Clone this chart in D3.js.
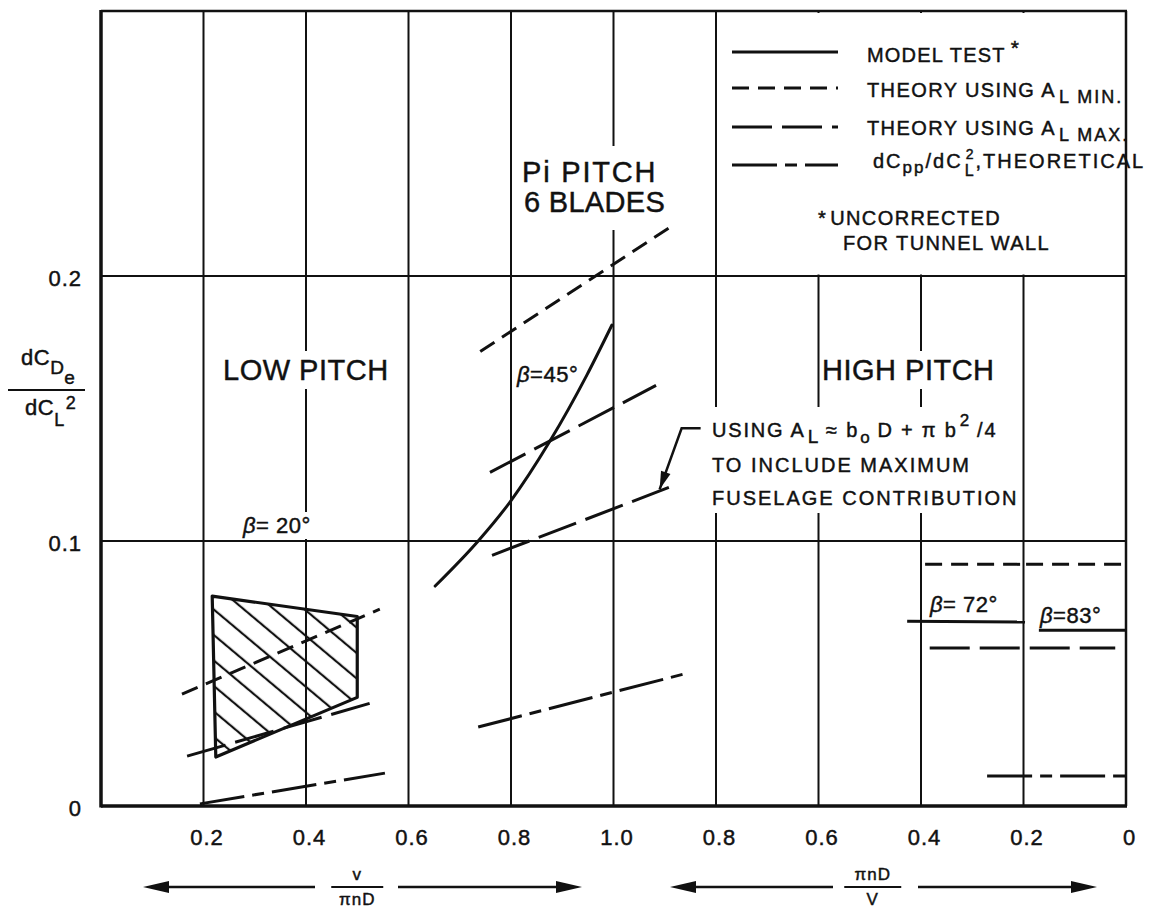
<!DOCTYPE html>
<html>
<head>
<meta charset="utf-8">
<script src="https://cdn.jsdelivr.net/npm/d3@7/dist/d3.min.js"></script>
<style>
html,body{margin:0;padding:0;background:#fff;}
svg{display:block;}
text{font-family:"Liberation Sans","DejaVu Sans",Arial,sans-serif;fill:#111;stroke:#111;stroke-width:0.45px;}
</style>
</head>
<body>
<svg id="chart" width="1150" height="909"></svg>
<script>
// ---------------- DATA ----------------
// Composite abscissa: left half is V/(pi n D) from 0 to 1, right half is (pi n D)/V from 1 back to 0.
const leftTickValues  = [0.2, 0.4, 0.6, 0.8, 1.0];      // V / pi n D
const leftTickLabels  = ["0.2", "0.4", "0.6", "0.8", "1.0"];
const rightTickValues = [0.8, 0.6, 0.4, 0.2, 0];        // pi n D / V
const rightTickLabels = ["0.8", "0.6", "0.4", "0.2", "0"];
const yTickValues = [0, 0.1, 0.2];
const yTickLabels = ["0", "0.1", "0.2"];

// beta = 20 deg (low pitch), x = V/(pi n D)
const b20ModelRegion = [[0.217, 0.0792], [0.500, 0.0715], [0.500, 0.0410], [0.224, 0.0185]];
const b20AlMin = [[0.158, 0.0422], [0.544, 0.0743]];
const b20AlMax = [[0.168, 0.0188], [0.540, 0.0396]];
const b20Cpp   = [[0.193, 0.0008], [0.554, 0.0124]];

// beta = 45 deg (pi pitch), x = V/(pi n D)
const b45Model = [[0.652, 0.0830], [0.736, 0.1000], [0.798, 0.1147], [0.876, 0.1377],
                  [0.948, 0.1626], [0.997, 0.1815]];
const b45AlMin = [[0.740, 0.1715], [1.112, 0.2186]];
const b45AlMax = [[0.759, 0.1259], [1.083, 0.1587]];
const b45AlMaxFuselage = [[0.763, 0.0946], [1.108, 0.1202]];
const b45Cpp   = [[0.736, 0.0298], [1.143, 0.0501]];

// beta = 72 deg and 83 deg (high pitch), x = pi n D / V
const b72Model = [[0.427, 0.0697], [0.197, 0.0694]];
const b83Model = [[0.170, 0.0663], [0.000, 0.0663]];
const b72AlMin = [[0.392, 0.0912], [0.205, 0.0912]];
const b83AlMin = [[0.195, 0.0912], [0.004, 0.0912]];
const b72b83AlMax = [[0.383, 0.0596], [0.021, 0.0596]];
const b72b83Cpp   = [[0.271, 0.0113], [0.000, 0.0113]];

const legendNames = ["MODEL TEST", "THEORY USING A_L MIN.", "THEORY USING A_L MAX.", "dCpp/dCL2,THEORETICAL"];

// ---------------- SETUP ----------------
const INK = "#111";
const svg = d3.select("#chart");
const x = d3.scaleLinear().domain([0, 2]).range([101, 1126]);
const y = d3.scaleLinear().domain([0, 0.3]).range([806, 11]);
const posL = v => v;          // V/(pi n D) -> composite
const posR = p => 2 - p;      // pi n D / V -> composite

const defs = svg.append("defs");
const gGrid = svg.append("g");
const gMask = svg.append("g");
const gFrame = svg.append("g");
const gData = svg.append("g");
const gText = svg.append("g");

// hatch pattern
const pat = defs.append("pattern").attr("id", "hatch").attr("patternUnits", "userSpaceOnUse")
  .attr("width", 19.5).attr("height", 19.5).attr("patternTransform", "rotate(-50)");
pat.append("line").attr("x1", 2).attr("x2", 2).attr("y1", -2).attr("y2", 22)
  .attr("stroke", INK).attr("stroke-width", 2.2);

// ---------------- GRID ----------------
const gridPositions = [...leftTickValues.map(posL), ...rightTickValues.map(posR)];
gGrid.selectAll("line.v").data(gridPositions.filter(p => p > 0 && p < 2)).join("line")
  .attr("class", "v")
  .attr("x1", d => x(d)).attr("x2", d => x(d))
  .attr("y1", y(0)).attr("y2", y(0.3))
  .attr("stroke", INK).attr("stroke-width", 2);
gGrid.selectAll("line.h").data(yTickValues.filter(v => v > 0)).join("line")
  .attr("class", "h")
  .attr("x1", x(0)).attr("x2", x(2))
  .attr("y1", d => y(d)).attr("y2", d => y(d))
  .attr("stroke", INK).attr("stroke-width", 2);

// legend mask (no grid under legend)
gMask.append("rect")
  .attr("x", x(1.2) + 1.5).attr("y", y(0.3) + 2)
  .attr("width", x(2) - x(1.2) - 3).attr("height", y(0.2) - y(0.3) - 3.5)
  .attr("fill", "#fff");

// ---------------- FRAME ----------------
gFrame.append("line").attr("x1", x(0)).attr("x2", x(0)).attr("y1", y(0.3) - 1).attr("y2", y(0) + 1.5)
  .attr("stroke", INK).attr("stroke-width", 3.5);
gFrame.append("line").attr("x1", x(0)).attr("x2", x(2) + 1).attr("y1", y(0)).attr("y2", y(0))
  .attr("stroke", INK).attr("stroke-width", 3.5);
gFrame.append("line").attr("x1", x(0)).attr("x2", x(2) + 1).attr("y1", y(0.3)).attr("y2", y(0.3))
  .attr("stroke", INK).attr("stroke-width", 2.5);
gFrame.append("line").attr("x1", x(2)).attr("x2", x(2)).attr("y1", y(0.3)).attr("y2", y(0))
  .attr("stroke", INK).attr("stroke-width", 2.5);

// axes labels via d3 axes
const xAxis = d3.axisBottom(x)
  .tickValues(gridPositions)
  .tickFormat((d, i) => [...leftTickLabels, ...rightTickLabels][i])
  .tickSize(0);
gFrame.append("g").attr("transform", `translate(3,${y(0)})`).call(xAxis)
  .call(g => g.select(".domain").remove())
  .call(g => g.selectAll("text").attr("dy", null).attr("y", 39)
    .attr("font-size", 22).attr("letter-spacing", 1).attr("fill", INK)
    .attr("font-family", "Liberation Sans, sans-serif"));

const yAxis = d3.axisLeft(y)
  .tickValues(yTickValues)
  .tickFormat((d, i) => yTickLabels[i])
  .tickSize(0).tickPadding(19);
gFrame.append("g").attr("transform", `translate(${x(0)},2)`).call(yAxis)
  .call(g => g.select(".domain").remove())
  .call(g => g.selectAll("text").attr("font-size", 22).attr("letter-spacing", 1).attr("fill", INK)
    .attr("font-family", "Liberation Sans, sans-serif"));

// ---------------- DATA MARKS ----------------
const styles = {
  model: null,
  min: "17,9",
  max: "40,10",
  cpp: "45,8,12,8"
};
const toL = pts => pts.map(([v, c]) => [posL(v), c]);
const toR = pts => pts.map(([p, c]) => [posR(p), c]);
const line = d3.line().x(d => x(d[0])).y(d => y(d[1]));
const curve = d3.line().x(d => x(d[0])).y(d => y(d[1])).curve(d3.curveMonotoneX);

// hatched model-test region for beta = 20
const regionPts = toL(b20ModelRegion);
gData.append("path").attr("d", line(regionPts) + "Z")
  .attr("fill", "url(#hatch)").attr("stroke", "none");
gData.append("path").attr("d", line(regionPts) + "Z")
  .attr("fill", "none").attr("stroke", INK).attr("stroke-width", 3.2).attr("stroke-linejoin", "round");

const seriesList = [
  {pts: toL(b20AlMin), s: "min"},
  {pts: toL(b20AlMax), s: "max"},
  {pts: toL(b20Cpp), s: "cpp"},
  {pts: toL(b45AlMin), s: "min"},
  {pts: toL(b45AlMax), s: "max"},
  {pts: toL(b45AlMaxFuselage), s: "max"},
  {pts: toL(b45Cpp), s: "cpp"},
  {pts: toR(b72Model), s: "model"},
  {pts: toR(b83Model), s: "model"},
  {pts: toR(b72AlMin), s: "min"},
  {pts: toR(b83AlMin), s: "min"},
  {pts: toR(b72b83AlMax), s: "max"},
  {pts: toR(b72b83Cpp), s: "cpp"}
];
gData.selectAll("path.series").data(seriesList).join("path")
  .attr("class", "series")
  .attr("d", d => line(d.pts))
  .attr("fill", "none").attr("stroke", INK).attr("stroke-width", 3)
  .attr("stroke-dasharray", d => styles[d.s]);
gData.append("path").attr("d", curve(toL(b45Model)))
  .attr("fill", "none").attr("stroke", INK).attr("stroke-width", 3).attr("stroke-linecap", "round");

// ---------------- TEXT ----------------
function rich(g, x0, y0, runs, fs, ls) {
  let cx = x0;
  const grp = g.append("g");
  runs.forEach(r => {
    const t = grp.append("text")
      .attr("x", cx + (r.dx || 0)).attr("y", y0 + (r.dy || 0))
      .attr("font-size", r.fs || fs)
      .attr("letter-spacing", r.ls != null ? r.ls : ls)
      .attr("font-style", r.it ? "italic" : null)
      .text(r.t);
    const w = t.node().getComputedTextLength();
    if (!r.stack) cx += (r.dx || 0) + w;
  });
  return grp;
}
function halo(grp, padX, padY) {
  const b = grp.node().getBBox();
  gMask.append("rect").attr("x", b.x - padX).attr("y", b.y - padY)
    .attr("width", b.width + 2 * padX).attr("height", b.height + 2 * padY).attr("fill", "#fff");
}

// region titles
halo(rich(gText, 223, 380, [{t: "LOW  PITCH"}], 29, 0.5), 3, 3);
halo(rich(gText, 822, 380, [{t: "HIGH  PITCH"}], 29, 0.5), 2, 3);
const pi1 = rich(gText, 522, 182, [{t: "Pi  PITCH"}], 29, 1.8);
const pi2 = rich(gText, 524, 212, [{t: "6  BLADES"}], 29, 0.3);
halo(pi1, 3, 10); halo(pi2, 3, 12);

// beta labels
halo(rich(gText, 243, 533, [{t: "β", it: true}, {t: " = 20°"}], 22, 0.5), 2, 1);
halo(rich(gText, 517, 382, [{t: "β", it: true}, {t: "=45°"}], 22, 0.5), 1, 1);
halo(rich(gText, 930, 612, [{t: "β", it: true}, {t: " = 72°"}], 22, 0.5), 1, 1);
halo(rich(gText, 1040, 623, [{t: "β", it: true}, {t: "=83°"}], 22, 0.5), 1, 1);

// annotation
const ann = gText.append("g");
rich(ann, 712, 437, [{t: "USING  A"}, {t: "L", dy: 6, fs: 19, dx: 2}, {t: "  ≈  b", dx: 6},
  {t: "o", dy: 6, fs: 17, dx: 1}, {t: "  D + π b", dx: 6}, {t: "2", dy: -11, fs: 17, dx: 2}, {t: "  /4", dx: 6}], 20, 1.8);
rich(ann, 712, 472, [{t: "TO  INCLUDE  MAXIMUM"}], 20, 2);
rich(ann, 712, 505, [{t: "FUSELAGE  CONTRIBUTION"}], 20, 2);
halo(ann, 3, 4);
// leader with arrow to the A_L max fuselage line
const tip = [x(1.090), y(0.1195)];
const elbow = [tip[0] + 22, tip[1] - 61];
const startPt = [elbow[0] + 19, elbow[1]];
gText.append("path").attr("d", `M${startPt}L${elbow}L${tip}`)
  .attr("fill", "none").attr("stroke", INK).attr("stroke-width", 2.5);
{
  const dx = tip[0] - elbow[0], dy = tip[1] - elbow[1], L = Math.hypot(dx, dy);
  const ux = dx / L, uy = dy / L, px = -uy, py = ux, hl = 18, hw = 5;
  const bx = tip[0] - ux * hl, by = tip[1] - uy * hl;
  gText.append("path").attr("d", `M${tip}L${bx + px * hw},${by + py * hw}L${bx - px * hw},${by - py * hw}Z`)
    .attr("fill", INK);
}

// legend
const legRows = [
  {s: "model", ly: 52, ty: 62, tx: 867, ls: 1.2, runs: [{t: "MODEL  TEST"}, {t: "*", dy: -7, fs: 21, dx: 5}]},
  {s: "min", ly: 88, ty: 97, tx: 867, ls: 1.4, runs: [{t: "THEORY  USING  A"}, {t: "L MIN.", dy: 6, fs: 18, dx: 3, ls: 2}]},
  {s: "max", ly: 127, ty: 135, tx: 867, ls: 1.4, runs: [{t: "THEORY  USING  A"}, {t: "L MAX.", dy: 6, fs: 18, dx: 3, ls: 2}]},
  {s: "cpp", ly: 165, ty: 168, tx: 873, ls: 2.0, runs: [{t: "dC"}, {t: "pp", dy: 5, fs: 17}, {t: "/dC"},
    {t: "2", dy: -9, fs: 14, dx: 3, stack: true}, {t: "L", dy: 8, fs: 16, dx: 2}, {t: ",THEORETICAL"}]}
];
legRows.forEach((r, i) => {
  gText.append("line").datum(legendNames[i])
    .attr("x1", 732).attr("x2", 838).attr("y1", r.ly).attr("y2", r.ly)
    .attr("stroke", INK).attr("stroke-width", 3).attr("stroke-dasharray", styles[r.s]);
  rich(gText, r.tx, r.ty, r.runs, 20, r.ls);
});
rich(gText, 818, 225, [{t: "*", fs: 20}, {t: " UNCORRECTED", dx: 3}], 20, 1.4);
rich(gText, 843, 250, [{t: "FOR  TUNNEL  WALL"}], 20, 1.4);

// y-axis title (fraction)
rich(gText, 21, 365, [{t: "dC", fs: 22}, {t: "D", dy: 9, fs: 19}, {t: "e", dy: 19, fs: 19}], 22, 0.5);
gText.append("line").attr("x1", 8).attr("x2", 85).attr("y1", 390).attr("y2", 390)
  .attr("stroke", INK).attr("stroke-width", 2);
rich(gText, 25, 415, [{t: "dC", fs: 22}, {t: "L", dy: 11, fs: 18}, {t: "2", dy: -6, fs: 18, dx: 1}], 22, 0.5);

// bottom arrows and fractions
const ay = 887;
function arrow(x1, x2) {
  const dir = Math.sign(x2 - x1), hl = 26, hw = 6;
  gText.append("line").attr("x1", x1).attr("x2", x2 - dir * hl + dir * 2).attr("y1", ay).attr("y2", ay)
    .attr("stroke", INK).attr("stroke-width", 2.5);
  gText.append("path").attr("d", `M${x2},${ay}L${x2 - dir * hl},${ay - hw}L${x2 - dir * hl},${ay + hw}Z`).attr("fill", INK);
}
arrow(315, 143); arrow(398, 582);
arrow(833, 670); arrow(918, 1097);
function frac(cx, top, bottom, w) {
  gText.append("text").attr("x", cx).attr("y", ay - 7).attr("text-anchor", "middle")
    .attr("font-size", 17).attr("letter-spacing", 1).text(top);
  gText.append("line").attr("x1", cx - w / 2).attr("x2", cx + w / 2).attr("y1", ay).attr("y2", ay)
    .attr("stroke", INK).attr("stroke-width", 2);
  gText.append("text").attr("x", cx).attr("y", ay + 18).attr("text-anchor", "middle")
    .attr("font-size", 17).attr("letter-spacing", 1).text(bottom);
}
frac(x(0.5), "v", "πnD", 52);
frac(x(1.5) + 3, "πnD", "V", 57);
</script>
</body>
</html>
